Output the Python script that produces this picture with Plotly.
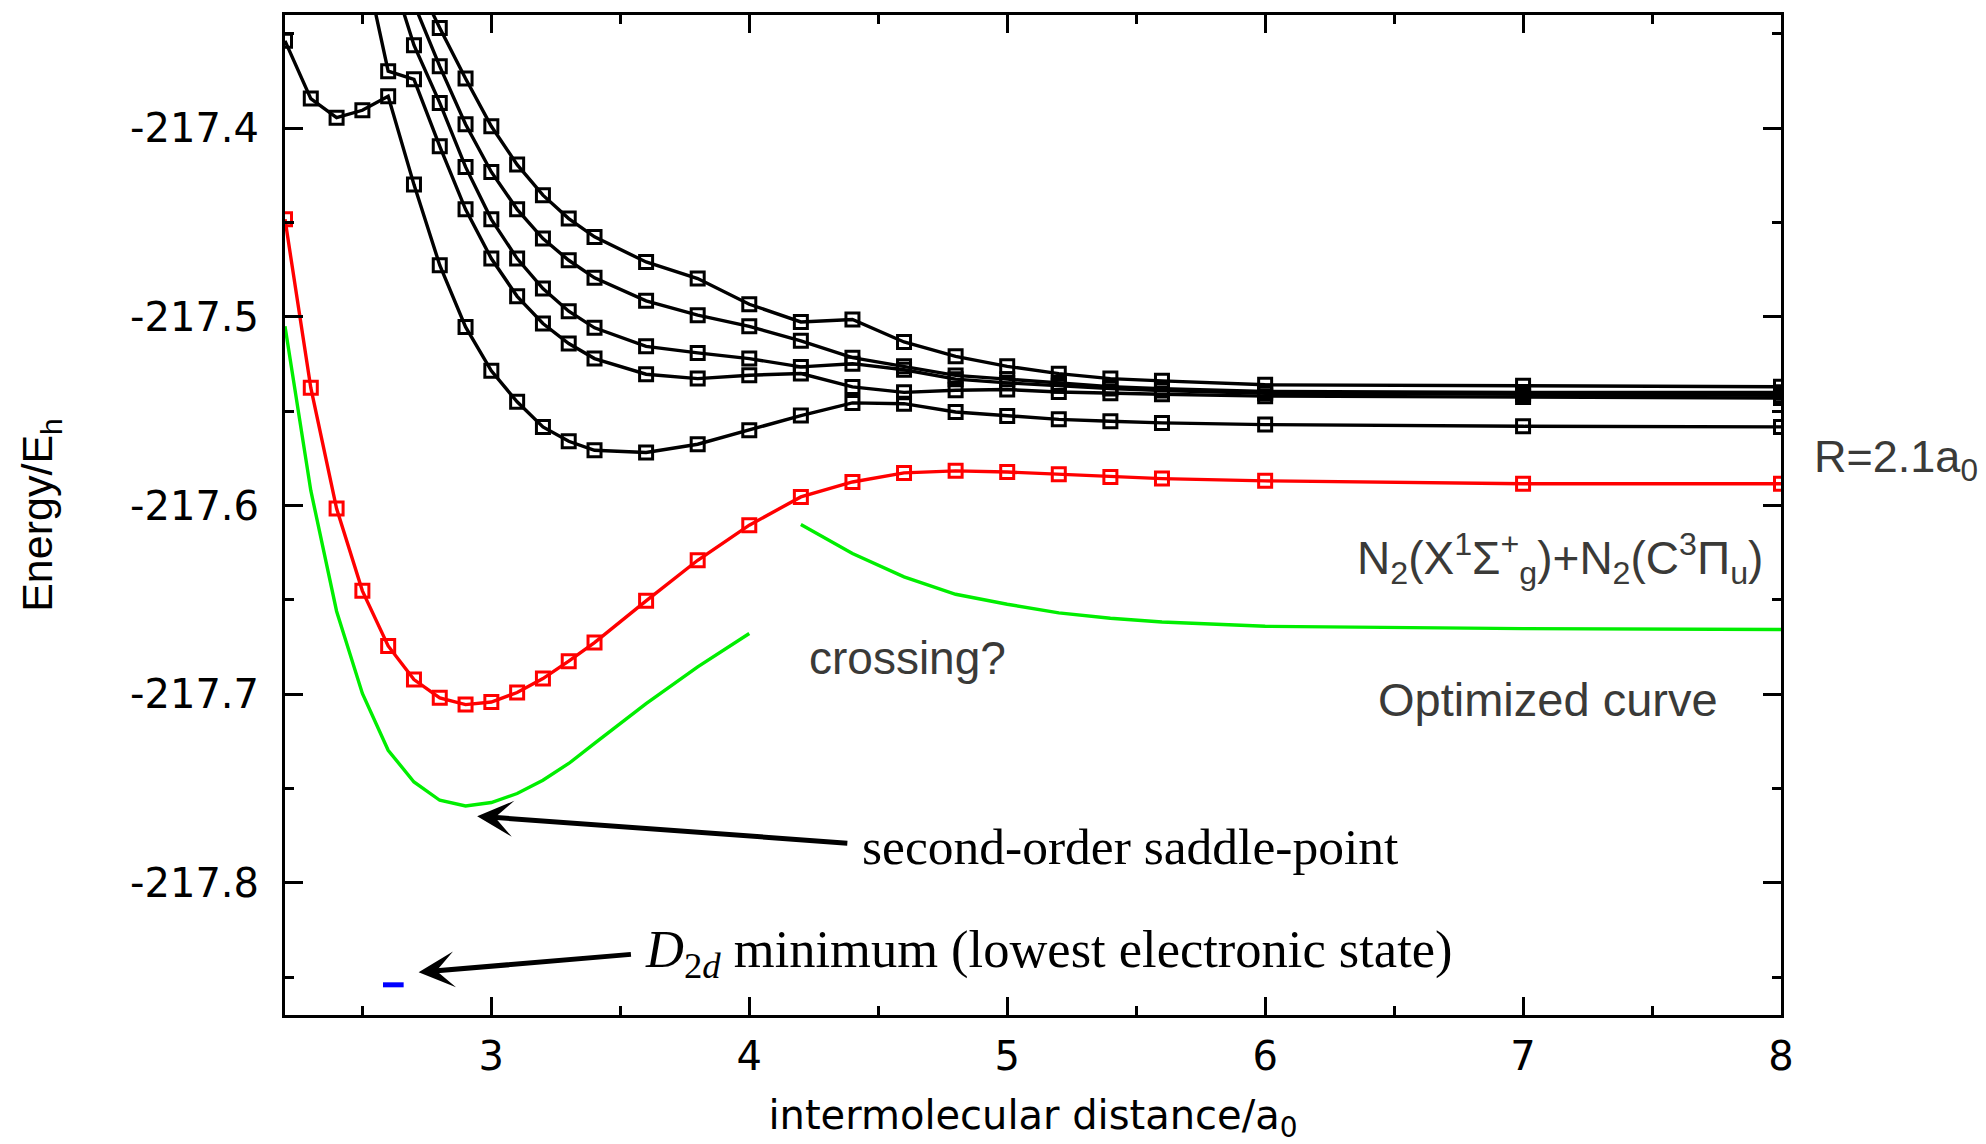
import plotly.graph_objects as go

# ---------------- data ----------------
x_grid = [2.2, 2.3, 2.4, 2.5, 2.6, 2.7, 2.8, 2.9, 3.0, 3.1, 3.2, 3.3, 3.4,
          3.6, 3.8, 4.0, 4.2, 4.4, 4.6, 4.8, 5.0, 5.2, 5.4, 5.6, 6.0, 7.0, 8.0]

# red curve (R = 2.1 a0)
red_energy = [-217.4483, -217.5375, -217.6016, -217.6452, -217.6744, -217.6922,
              -217.7019, -217.7055, -217.7041, -217.6991, -217.6917, -217.6825,
              -217.6726, -217.6505, -217.6290, -217.6104, -217.5954, -217.5875,
              -217.5827, -217.5816, -217.5822, -217.5834, -217.5848, -217.5857,
              -217.5869, -217.5884, -217.5884]

# black excited-state curves (first points run off the top of the frame)
black1_x = [2.7, 2.8, 2.9, 3.0, 3.1, 3.2, 3.3, 3.4, 3.6, 3.8, 4.0, 4.2, 4.4,
            4.6, 4.8, 5.0, 5.2, 5.4, 5.6, 6.0, 7.0, 8.0]
black1_energy = [-217.3186, -217.3469, -217.3737, -217.3990, -217.4193, -217.4355,
                 -217.4479, -217.4576, -217.4709, -217.4797, -217.4933, -217.5027,
                 -217.5014, -217.5133, -217.5209, -217.5262, -217.5301, -217.5327,
                 -217.5339, -217.5360, -217.5365, -217.5370]

black2_x = [2.7, 2.8, 2.9, 3.0, 3.1, 3.2, 3.3, 3.4, 3.6, 3.8, 4.0, 4.2, 4.4,
            4.6, 4.8, 5.0, 5.2, 5.4, 5.6, 6.0, 7.0, 8.0]
black2_energy = [-217.3340, -217.3672, -217.3979, -217.4232, -217.4430, -217.4585,
                 -217.4700, -217.4793, -217.4915, -217.4991, -217.5050, -217.5127,
                 -217.5216, -217.5262, -217.5310, -217.5330, -217.5350, -217.5370,
                 -217.5380, -217.5395, -217.5400, -217.5400]

black3_x = [2.6, 2.7, 2.8, 2.9, 3.0, 3.1, 3.2, 3.3, 3.4, 3.6, 3.8, 4.0, 4.2,
            4.4, 4.6, 4.8, 5.0, 5.2, 5.4, 5.6, 6.0, 7.0, 8.0]
black3_energy = [-217.3126, -217.3560, -217.3866, -217.4205, -217.4483, -217.4691,
                 -217.4850, -217.4970, -217.5058, -217.5156, -217.5191, -217.5221,
                 -217.5265, -217.5248, -217.5280, -217.5330, -217.5350, -217.5365,
                 -217.5380, -217.5390, -217.5405, -217.5410, -217.5415]

black4_x = [2.5, 2.6, 2.7, 2.8, 2.9, 3.0, 3.1, 3.2, 3.3, 3.4, 3.6, 3.8, 4.0,
            4.2, 4.4, 4.6, 4.8, 5.0, 5.2, 5.4, 5.6, 6.0, 7.0, 8.0]
black4_energy = [-217.3066, -217.3698, -217.3741, -217.4096, -217.4430, -217.4691,
                 -217.4891, -217.5035, -217.5141, -217.5221, -217.5304, -217.5327,
                 -217.5309, -217.5300, -217.5371, -217.5400, -217.5389, -217.5385,
                 -217.5398, -217.5405, -217.5410, -217.5420, -217.5425, -217.5430]

black5_energy = [-217.3537, -217.3843, -217.3944, -217.3905, -217.3831, -217.4299,
                 -217.4726, -217.5053, -217.5286, -217.5450, -217.5583, -217.5659,
                 -217.5707, -217.5719, -217.5675, -217.5601, -217.5523, -217.5456,
                 -217.5460, -217.5504, -217.5525, -217.5543, -217.5553, -217.5562,
                 -217.5571, -217.5580, -217.5583]

# green optimized curve (two pieces)
green_left_x = [2.2, 2.3, 2.4, 2.5, 2.6, 2.7, 2.8, 2.9, 3.0, 3.1, 3.2, 3.3, 3.4,
                3.6, 3.8, 4.0]
green_left_energy = [-217.505, -217.592, -217.656, -217.6996, -217.7297, -217.7465,
                     -217.7562, -217.7592, -217.7574, -217.7526, -217.7456, -217.7367,
                     -217.726, -217.705, -217.6855, -217.6678]
green_right_x = [4.2, 4.4, 4.6, 4.8, 5.0, 5.2, 5.4, 5.6, 6.0, 7.0, 8.0]
green_right_energy = [-217.610, -217.6254, -217.6378, -217.647, -217.6523, -217.6569,
                      -217.6597, -217.6617, -217.664, -217.6652, -217.6657]

# D2d minimum marker
d2d_x = [2.58, 2.66]
d2d_energy = [-217.854, -217.854]

# ticks
x_tickvals = [3, 4, 5, 6, 7, 8]
x_ticktext = ["3", "4", "5", "6", "7", "8"]
y_tickvals = [-217.4, -217.5, -217.6, -217.7, -217.8]
y_ticktext = ["-217.4", "-217.5", "-217.6", "-217.7", "-217.8"]

# ---------------- figure ----------------
fig = go.Figure()

def marker_trace(x, y, color):
    return go.Scatter(
        x=x, y=y, mode="lines+markers",
        line=dict(color=color, width=3.4),
        marker=dict(symbol="square-open", size=13, color=color,
                    line=dict(width=3, color=color)),
        hoverinfo="skip", showlegend=False)

fig.add_trace(go.Scatter(x=green_left_x, y=green_left_energy, mode="lines",
                         line=dict(color="#00ee00", width=3.4), showlegend=False))
fig.add_trace(go.Scatter(x=green_right_x, y=green_right_energy, mode="lines",
                         line=dict(color="#00ee00", width=3.4), showlegend=False))

for bx, by in [(black1_x, black1_energy), (black2_x, black2_energy),
               (black3_x, black3_energy), (black4_x, black4_energy),
               (x_grid, black5_energy)]:
    fig.add_trace(marker_trace(bx, by, "black"))

fig.add_trace(marker_trace(x_grid, red_energy, "#ff0000"))

fig.add_trace(go.Scatter(x=d2d_x, y=d2d_energy, mode="lines",
                         line=dict(color="#0000ff", width=5), showlegend=False))

gray = "#3a3a38"
sans = "Liberation Sans, Arial, sans-serif"
serif = "Liberation Serif, Times New Roman, serif"

annotations = [
    dict(x=1.0207, y=-217.5755, xref="paper", yref="y", xanchor="left", yanchor="middle",
         text="R=2.1a<sub>0</sub>", showarrow=False, font=dict(family=sans, size=45, color=gray)),
    dict(x=6.347, y=-217.628, xref="x", yref="y", xanchor="left", yanchor="middle",
         text="N<sub>2</sub>(X<sup>1</sup>Σ<sup>+</sup><sub>g</sub>)+N<sub>2</sub>(C<sup>3</sup>Π<sub>u</sub>)",
         showarrow=False, font=dict(family=sans, size=46, color=gray)),
    dict(x=4.223, y=-217.681, xref="x", yref="y", xanchor="left", yanchor="middle",
         text="crossing?", showarrow=False, font=dict(family=sans, size=46, color=gray)),
    dict(x=6.429, y=-217.7027, xref="x", yref="y", xanchor="left", yanchor="middle",
         text="Optimized curve", showarrow=False, font=dict(family=sans, size=47, color=gray)),
    dict(x=4.429, y=-217.7806, xref="x", yref="y", xanchor="left", yanchor="middle",
         text="second-order saddle-point", showarrow=False,
         font=dict(family=serif, size=51.5, color="black")),
    dict(x=3.5895, y=-217.8373, xref="x", yref="y", xanchor="left", yanchor="middle",
         text="<i>D</i><sub>2<i>d</i></sub> minimum (lowest electronic state)", showarrow=False,
         font=dict(family=serif, size=52.5, color="black")),
    # arrows
    dict(x=2.945, y=-217.7646, ax=4.386, ay=-217.779, xref="x", yref="y",
         axref="x", ayref="y", text="", showarrow=True, arrowhead=3,
         arrowsize=1.2, arrowwidth=5, arrowcolor="black", standoff=0, startstandoff=0),
    dict(x=2.718, y=-217.8474, ax=3.547, ay=-217.8378, xref="x", yref="y",
         axref="x", ayref="y", text="", showarrow=True, arrowhead=3,
         arrowsize=1.2, arrowwidth=5, arrowcolor="black", standoff=0, startstandoff=0),
]

axis_common = dict(
    showgrid=False, zeroline=False, showline=True, linecolor="black", linewidth=3,
    mirror="ticks", ticks="inside", ticklen=18, tickwidth=2.5, tickcolor="black",
)

fig.update_layout(
    width=1986, height=1144,
    margin=dict(l=285, r=205, t=15, b=129, autoexpand=False),
    paper_bgcolor="white", plot_bgcolor="white",
    showlegend=False,
    annotations=annotations,
    xaxis=dict(
        range=[2.2, 8.0], tickmode="array", tickvals=x_tickvals, ticktext=x_ticktext,
        tickfont=dict(family="DejaVu Sans", size=40, color="black"),
        ticklabelstandoff=4,
        minor=dict(tickmode="linear", tick0=2.5, dtick=0.5, ticks="inside",
                   ticklen=9, tickwidth=2.5, tickcolor="black"),
        title=dict(text="intermolecular distance/a<sub>0</sub>",
                   font=dict(family="DejaVu Sans", size=40, color="black"), standoff=26),
        **axis_common),
    yaxis=dict(
        range=[-217.87, -217.34], tickmode="array", tickvals=y_tickvals, ticktext=y_ticktext,
        tickfont=dict(family="DejaVu Sans", size=40, color="black"),
        ticklabelstandoff=15,
        minor=dict(tickmode="linear", tick0=-217.4, dtick=0.05, ticks="inside",
                   ticklen=9, tickwidth=2.5, tickcolor="black"),
        title=dict(text="Energy/E<sub>h</sub>",
                   font=dict(family=sans, size=43, color="black"), standoff=64),
        **axis_common),
)

fig.write_html("out.html")
